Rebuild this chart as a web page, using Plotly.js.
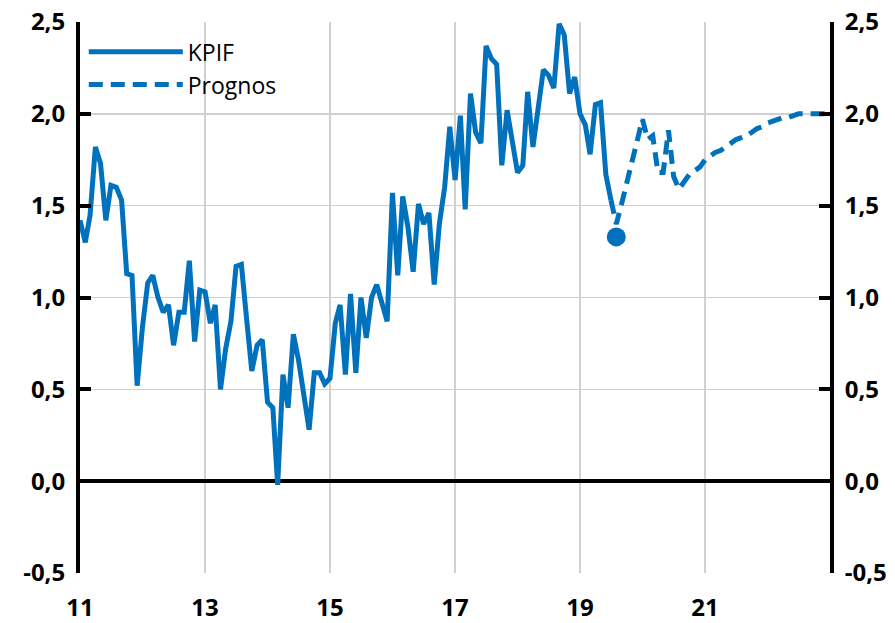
<!DOCTYPE html>
<html lang="sv">
<head>
<meta charset="UTF-8">
<title>KPIF</title>
<script src="https://cdn.plot.ly/plotly-3.0.1.min.js"></script>
<style>
  body { margin: 0; background: #fff; }
  #chart { width: 895px; height: 623px; }
</style>
</head>
<body>
<div id="chart"></div>
<script>
// KPIF, årlig förändring i procent, månadsdata
const kpifStart = [2011, 1];
const kpif = [
  1.42, 1.30, 1.45, 1.82, 1.73, 1.42, 1.61, 1.60, 1.53, 1.13, 1.12, 0.52,
  0.84, 1.08, 1.12, 1.00, 0.92, 0.96, 0.74, 0.92, 0.92, 1.20, 0.76, 1.04,
  1.03, 0.86, 0.96, 0.50, 0.72, 0.87, 1.17, 1.18, 0.88, 0.60, 0.74, 0.77,
  0.43, 0.40, -0.02, 0.58, 0.40, 0.80, 0.66, 0.48, 0.28, 0.59, 0.59, 0.53,
  0.56, 0.86, 0.96, 0.58, 1.02, 0.59, 1.00, 0.78, 1.00, 1.07, 0.97, 0.87,
  1.57, 1.12, 1.55, 1.38, 1.14, 1.51, 1.40, 1.46, 1.07, 1.40, 1.60, 1.93,
  1.64, 1.99, 1.48, 2.11, 1.90, 1.84, 2.37, 2.30, 2.27, 1.72, 2.02, 1.87,
  1.68, 1.72, 2.12, 1.82, 2.03, 2.24, 2.21, 2.14, 2.49, 2.43, 2.11, 2.20,
  2.00, 1.94, 1.78, 2.05, 2.06, 1.67, 1.53
];

const prognosStart = [2019, 7];
const prognos = [
  1.53, 1.40, 1.51, 1.63, 1.74, 1.86,
  1.97, 1.86, 1.88, 1.68, 1.68, 1.91, 1.66, 1.59, 1.63, 1.67, 1.69, 1.71,
  1.75, 1.77, 1.79, 1.80, 1.82, 1.84, 1.86, 1.87, 1.88, 1.90, 1.92, 1.93,
  1.95, 1.96, 1.97, 1.98, 1.98, 1.99, 2.00, 2.00, 2.00, 2.00, 2.00, 2.00
];

// senaste utfall
const utfallDate = ['2019-08-01'];
const utfall = [1.33];

const yTicks = [-0.5, 0, 0.5, 1, 1.5, 2, 2.5];
const yTickText = ['-0,5', '0,0', '0,5', '1,0', '1,5', '2,0', '2,5'];
const xTicks = ['2011-01-01', '2013-01-01', '2015-01-01', '2017-01-01', '2019-01-01', '2021-01-01'];
const xTickText = ['11', '13', '15', '17', '19', '21'];

function monthDates(start, n) {
  const out = [];
  for (let i = 0; i < n; i++) {
    const m = start[1] - 1 + i;
    const y = start[0] + Math.floor(m / 12);
    const mm = (m % 12) + 1;
    out.push(y + '-' + String(mm).padStart(2, '0') + '-01');
  }
  return out;
}

const blue = '#0071BC';
const tickFont = { family: 'Open Sans, DejaVu Sans, sans-serif', size: 24, color: '#000', weight: 'bold' };

const data = [
  {
    x: monthDates(kpifStart, kpif.length),
    y: kpif,
    name: 'KPIF',
    type: 'scatter',
    mode: 'lines',
    line: { color: blue, width: 5 }
  },
  {
    x: monthDates(prognosStart, prognos.length),
    y: prognos,
    name: 'Prognos',
    type: 'scatter',
    mode: 'lines',
    line: { color: blue, width: 5, dash: '14px,8px' }
  },
  {
    x: utfallDate,
    y: utfall,
    type: 'scatter',
    mode: 'markers',
    showlegend: false,
    yaxis: 'y2',
    marker: { color: blue, size: 19 }
  }
];

const yCommon = {
  range: [-0.5, 2.5],
  tickvals: yTicks,
  ticktext: yTickText,
  tickfont: tickFont,
  showline: true,
  linecolor: '#000',
  linewidth: 4,
  ticks: 'inside',
  ticklen: 11,
  tickwidth: 4,
  tickcolor: '#000',
  ticklabelstandoff: 6,
  fixedrange: true
};

const layout = {
  width: 895,
  height: 623,
  margin: { l: 80, r: 65, t: 22, b: 50 },
  paper_bgcolor: '#fff',
  plot_bgcolor: '#fff',
  font: { family: 'Open Sans, DejaVu Sans, sans-serif', color: '#000' },
  showlegend: true,
  legend: {
    x: 0.005, y: 0.985, xanchor: 'left', yanchor: 'top',
    bgcolor: 'rgba(0,0,0,0)',
    font: { size: 23, color: '#000' },
    itemwidth: 94,
    tracegroupgap: 0
  },
  xaxis: {
    type: 'date',
    range: ['2011-01-01', '2023-01-01'],
    tickvals: xTicks,
    ticktext: xTickText,
    tickfont: tickFont,
    showgrid: true,
    gridcolor: '#d0d0d0',
    gridwidth: 1.5,
    showline: false,
    ticks: '',
    ticklabelstandoff: 18,
    zeroline: false
  },
  yaxis: Object.assign({}, yCommon, {
    side: 'left',
    showgrid: true,
    gridcolor: '#d0d0d0',
    gridwidth: 1.5,
    zeroline: true,
    zerolinecolor: '#000',
    zerolinewidth: 4
  }),
  yaxis2: Object.assign({}, yCommon, {
    side: 'right',
    overlaying: 'y',
    showgrid: false,
    zeroline: false
  })
};

Plotly.newPlot('chart', data, layout, { displayModeBar: false, staticPlot: true });
</script>
</body>
</html>
